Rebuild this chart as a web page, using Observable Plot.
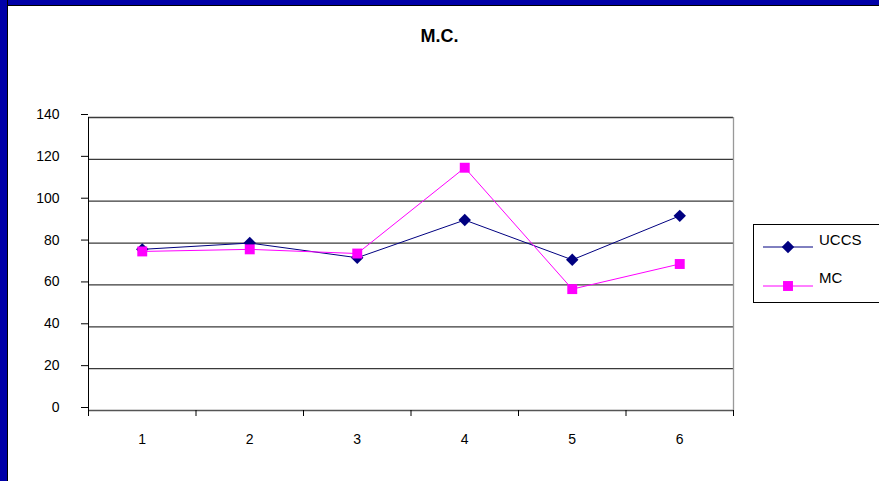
<!DOCTYPE html>
<html>
<head>
<meta charset="utf-8">
<script src="https://cdn.jsdelivr.net/npm/d3@7"></script>
<script src="https://cdn.jsdelivr.net/npm/@observablehq/plot@0.6"></script>
<style>
  html, body { margin: 0; padding: 0; background: #fff; }
  #chart {
    position: relative; width: 879px; height: 481px; overflow: hidden;
    font-family: Arial, "Liberation Sans", sans-serif; background: #fff;
  }
  #band-top { position: absolute; left: 0; top: 0; width: 879px; height: 5px; background: #0000a8; border-bottom: 1px solid #000; }
  #band-left { position: absolute; left: 0; top: 0; width: 7px; height: 481px; background: #0000a8; border-right: 1px solid #000; }
  #title { position: absolute; left: 0; width: 879px; top: 26px; text-align: center; font-weight: bold; font-size: 18px; color: #000; }
  #plot { position: absolute; left: 0; top: 0; }
  #legend {
    position: absolute; left: 753px; top: 224px; width: 160px; height: 77px;
    border: 1px solid #000; background: #fff;
  }
  #legend svg { position: absolute; left: 0; top: 0; }
</style>
</head>
<body>
<div id="chart">
  <div id="plot"></div>
  <div id="band-top"></div>
  <div id="band-left"></div>
  <div id="title">M.C.</div>
  <div id="legend"></div>
</div>
<script>
// Categories along the x axis
const categories = [1, 2, 3, 4, 5, 6];
// Series values
const uccs = [77, 80, 73, 91, 72, 93];
const mc = [76, 77, 75, 116, 58, 70];
const seriesNames = ["UCCS", "MC"];
const seriesColors = ["#000080", "#ff00ff"];
const seriesSymbols = ["diamond2", "square"];
// Y axis tick labels
const yTicks = [0, 20, 40, 60, 80, 100, 120, 140];

const rows = [];
categories.forEach((c, i) => {
  rows.push({cat: c, value: uccs[i], series: seriesNames[0]});
  rows.push({cat: c, value: mc[i], series: seriesNames[1]});
});
// Category band edges (ticks between categories)
const edges = d3.range(categories.length + 1).map(i => categories[0] - 0.5 + i);

const plot = Plot.plot({
  width: 879,
  height: 481,
  marginLeft: 88,
  marginRight: 146,
  marginTop: 117,
  marginBottom: 71,
  style: {fontFamily: "Arial, 'Liberation Sans', sans-serif", background: "transparent", color: "#000"},
  x: {domain: [edges[0], edges[edges.length - 1]], label: null},
  y: {domain: [0, 140], label: null},
  color: {domain: seriesNames, range: seriesColors},
  symbol: {domain: seriesNames, range: seriesSymbols},
  marks: [
    Plot.ruleY(yTicks.filter(d => d > 0), {stroke: "#3a3a3a", strokeWidth: 1.3}),
    Plot.ruleY([0], {stroke: "#555", strokeWidth: 1.5}),
    Plot.ruleX([edges[edges.length - 1]], {stroke: "#999", strokeWidth: 1.3}),
    Plot.ruleX([edges[0]], {stroke: "#000", strokeWidth: 1}),
    Plot.axisY({ticks: yTicks, tickSize: 7, tickPadding: 22, fontSize: 14, dy: -3, stroke: "#000", label: null}),
    Plot.axisX({ticks: edges, tickSize: 6, tickFormat: () => "", stroke: "#000", label: null}),
    Plot.axisX({ticks: categories, tickSize: 0, tickPadding: 24, fontSize: 14, tickFormat: d => String(d), label: null}),
    Plot.line(rows, {x: "cat", y: "value", z: "series", stroke: "series", strokeWidth: 1}),
    Plot.dot(rows, {x: "cat", y: "value", symbol: "series", fill: "series", stroke: "none", r: 5.6})
  ]
});
document.getElementById("plot").appendChild(plot);

// Legend: line swatch with marker, then series name
const lg = d3.select("#legend").append("svg").attr("width", 160).attr("height", 77);
const sym = {diamond2: d3.symbolDiamond2, square: d3.symbolSquare};
seriesNames.forEach((name, i) => {
  const y = i === 0 ? 22 : 61;
  lg.append("line").attr("x1", 9).attr("x2", 59).attr("y1", y).attr("y2", y)
    .attr("stroke", seriesColors[i]).attr("stroke-width", 1);
  lg.append("path").attr("transform", `translate(34,${y})`)
    .attr("d", d3.symbol(sym[seriesSymbols[i]], Math.PI * 5.6 * 5.6)())
    .attr("fill", seriesColors[i]);
  lg.append("text").attr("x", 65).attr("y", i === 0 ? 20 : 58)
    .attr("font-size", 15).attr("font-family", "Arial, 'Liberation Sans', sans-serif")
    .attr("fill", "#000").text(name);
});
</script>
</body>
</html>
